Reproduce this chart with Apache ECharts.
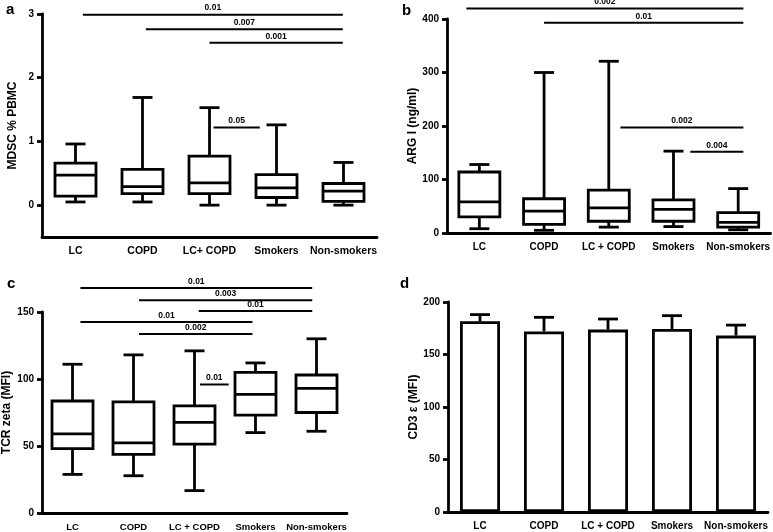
<!DOCTYPE html>
<html><head><meta charset="utf-8">
<script src="https://cdn.jsdelivr.net/npm/echarts@6/dist/echarts.min.js"></script>
<style>html,body{margin:0;padding:0;background:#fff}#c{width:773px;height:532px}</style>
</head><body><div id="c"></div>
<script>
// ---------- data ----------
const groupsA = ['LC', 'COPD', 'LC+ COPD', 'Smokers', 'Non-smokers'];
const groups = ['LC', 'COPD', 'LC + COPD', 'Smokers', 'Non-smokers'];
// box statistics: [min, Q1, median, Q3, max]
const mdscStats = [[0.05, 0.14, 0.47, 0.66, 0.96], [0.05, 0.18, 0.29, 0.56, 1.69], [0, 0.18, 0.35, 0.77, 1.53], [0, 0.12, 0.27, 0.48, 1.26], [0, 0.06, 0.22, 0.34, 0.67]];
const argStats = [[8, 30, 58, 114, 128], [5, 16, 41, 64, 300], [11, 22, 47, 80, 321], [12, 22, 44, 62, 153], [6, 11, 20, 38, 83]];
const tcrStats = [[28.8, 48, 59, 83.6, 111], [27.8, 43.8, 52.4, 83, 118], [16.7, 51.4, 67.6, 80, 121], [60, 73, 88.5, 105, 112], [61, 75, 93, 103, 130]];
const cd3Mean = [181.6, 172, 173.7, 174.3, 168];
const cd3Upper = [188, 185.4, 183.8, 187, 178];
// significance bars: [from (category units), to (category units), y]
const sigA = [[0.11, 3.99, 2.99], [1.05, 3.99, 2.76], [2.0, 3.99, 2.55], [2.06, 2.75, 1.22]];
const sigALabels = ['0.01', '0.007', '0.001', '0.05'];
const sigB = [[-0.2, 4.08, 419.5], [1.0, 4.08, 393], [2.18, 4.08, 197], [3.26, 4.08, 152]];
const sigBLabels = ['0.002', '0.01', '0.002', '0.004'];
const sigC = [[0.13, 3.93, 168], [1.09, 3.93, 158.8], [2.07, 3.93, 150.7], [0.13, 2.95, 142.6], [1.09, 2.95, 133.5], [2.09, 2.56, 95.9]];
const sigCLabels = ['0.01', '0.003', '0.01', '0.01', '0.002', '0.01'];

// ---------- style ----------
const BLACK = '#000';
const LW = 2.8;
const FONT = '"Liberation Sans", Arial, Helvetica, sans-serif';

function boxRender(params, api) {
  const i = api.value(0);
  const pMin = api.coord([i, api.value(1)]);
  const pQ1 = api.coord([i, api.value(2)]);
  const pMed = api.coord([i, api.value(3)]);
  const pQ3 = api.coord([i, api.value(4)]);
  const pMax = api.coord([i, api.value(5)]);
  const x = pMed[0], hw = 20.5, cw = 10;
  const st = { stroke: BLACK, lineWidth: LW, fill: null };
  return { type: 'group', children: [
    { type: 'line', shape: { x1: x, y1: pQ3[1], x2: x, y2: pMax[1] }, style: st },
    { type: 'line', shape: { x1: x - cw, y1: pMax[1], x2: x + cw, y2: pMax[1] }, style: st },
    { type: 'line', shape: { x1: x, y1: pQ1[1], x2: x, y2: pMin[1] }, style: st },
    { type: 'line', shape: { x1: x - cw, y1: pMin[1], x2: x + cw, y2: pMin[1] }, style: st },
    { type: 'rect', shape: { x: x - hw, y: pQ3[1], width: 2 * hw, height: pQ1[1] - pQ3[1] }, style: { stroke: BLACK, lineWidth: LW, fill: '#fff' } },
    { type: 'line', shape: { x1: x - hw, y1: pMed[1], x2: x + hw, y2: pMed[1] }, style: st }
  ] };
}
function sigRender(labels) {
  return function (params, api) {
    const bw = api.size([1, 0])[0];
    const y = api.value(1);
    const base = api.coord([0, y]);
    const x1 = base[0] + api.value(2) * bw, x2 = base[0] + api.value(3) * bw;
    return { type: 'group', children: [
      { type: 'line', shape: { x1: x1, y1: base[1], x2: x2, y2: base[1] }, style: { stroke: BLACK, lineWidth: 2 } },
      { type: 'text', x: (x1 + x2) / 2, y: base[1] - 2, style: { text: labels[params.dataIndex], fill: BLACK, font: 'bold 8.5px ' + FONT, align: 'center', verticalAlign: 'bottom' } }
    ] };
  };
}
function errRender(params, api) {
  const i = api.value(0);
  const p0 = api.coord([i, api.value(1)]);
  const p1 = api.coord([i, api.value(2)]);
  const st = { stroke: BLACK, lineWidth: LW };
  return { type: 'group', children: [
    { type: 'line', shape: { x1: p0[0], y1: p0[1], x2: p1[0], y2: p1[1] }, style: st },
    { type: 'line', shape: { x1: p1[0] - 10, y1: p1[1], x2: p1[0] + 10, y2: p1[1] }, style: st }
  ] };
}
function xAx(gi, data, fs) {
  return { type: 'category', gridIndex: gi, data: data, boundaryGap: true,
    axisLine: { onZero: false, lineStyle: { color: BLACK, width: LW } },
    axisTick: { alignWithLabel: true, length: 4, lineStyle: { width: LW, color: BLACK } },
    axisLabel: { color: BLACK, fontWeight: 'bold', fontSize: fs, fontFamily: FONT, margin: 9, interval: 0 },
    splitLine: { show: false } };
}
function yAx(gi, min, max, interval, name, gap, custom) {
  const ax = { type: 'value', gridIndex: gi, min: min, max: max,
    name: name, nameLocation: 'middle', nameGap: gap,
    nameTextStyle: { color: BLACK, fontWeight: 'bold', fontSize: 12, fontFamily: FONT },
    axisLine: { show: true, lineStyle: { color: BLACK, width: LW } },
    axisTick: { show: true, length: 5, lineStyle: { width: LW, color: BLACK } },
    axisLabel: { color: BLACK, fontWeight: 'bold', fontSize: 10, fontFamily: FONT, margin: 8 },
    splitLine: { show: false } };
  if (custom) {
    ax.axisLabel.customValues = custom;
    ax.axisTick.customValues = custom;
  } else {
    ax.interval = interval;
  }
  return ax;
}
const boxData = s => s.map((v, i) => [i].concat(v));
const sigData = s => s.map(v => [0, v[2], v[0], v[1]]);

const option = {
  animation: false,
  backgroundColor: '#fff',
  title: [
    { text: 'a', left: 1, top: -3, textStyle: { fontSize: 15, fontWeight: 'bold', color: BLACK, fontFamily: FONT } },
    { text: 'b', left: 397, top: -2, textStyle: { fontSize: 15, fontWeight: 'bold', color: BLACK, fontFamily: FONT } },
    { text: 'c', left: 2, top: 271, textStyle: { fontSize: 15, fontWeight: 'bold', color: BLACK, fontFamily: FONT } },
    { text: 'd', left: 395, top: 271, textStyle: { fontSize: 15, fontWeight: 'bold', color: BLACK, fontFamily: FONT } }
  ],
  grid: [
    { left: 42, top: 14, width: 335, height: 223 },
    { left: 447, top: 19, width: 325, height: 214 },
    { left: 40, top: 312, width: 307, height: 203 },
    { left: 448, top: 302, width: 320, height: 210 }
  ],
  xAxis: [xAx(0, groupsA, 10.5), xAx(1, groups, 10), xAx(2, groups, 9.5), xAx(3, groups, 10)],
  yAxis: [
    yAx(0, -0.5, 3, null, 'MDSC % PBMC', 23, [0, 1, 2, 3]),
    yAx(1, 0, 400, 100, 'ARG I (ng/ml)', 17),
    yAx(2, 0, 150, 50, 'TCR zeta (MFI)', 29),
    yAx(3, 0, 200, 50, 'CD3 ε (MFI)', 23)
  ],
  series: [
    { type: 'custom', xAxisIndex: 0, yAxisIndex: 0, renderItem: boxRender, encode: { x: 0, y: [1, 2, 3, 4, 5] }, data: boxData(mdscStats) },
    { type: 'custom', xAxisIndex: 0, yAxisIndex: 0, renderItem: sigRender(sigALabels), encode: { x: 0, y: 1 }, data: sigData(sigA), clip: false },
    { type: 'custom', xAxisIndex: 1, yAxisIndex: 1, renderItem: boxRender, encode: { x: 0, y: [1, 2, 3, 4, 5] }, data: boxData(argStats) },
    { type: 'custom', xAxisIndex: 1, yAxisIndex: 1, renderItem: sigRender(sigBLabels), encode: { x: 0, y: 1 }, data: sigData(sigB), clip: false },
    { type: 'custom', xAxisIndex: 2, yAxisIndex: 2, renderItem: boxRender, encode: { x: 0, y: [1, 2, 3, 4, 5] }, data: boxData(tcrStats) },
    { type: 'custom', xAxisIndex: 2, yAxisIndex: 2, renderItem: sigRender(sigCLabels), encode: { x: 0, y: 1 }, data: sigData(sigC), clip: false },
    { type: 'bar', xAxisIndex: 3, yAxisIndex: 3, data: cd3Mean, barWidth: 40, itemStyle: { color: '#fff', borderColor: BLACK, borderWidth: LW }, z: 2 },
    { type: 'custom', xAxisIndex: 3, yAxisIndex: 3, renderItem: errRender, encode: { x: 0, y: [1, 2] }, data: cd3Mean.map((m, i) => [i, m, cd3Upper[i]]), z: 3 }
  ]
};
echarts.init(document.getElementById('c'), null, { renderer: 'canvas' }).setOption(option);
</script>
</body></html>
